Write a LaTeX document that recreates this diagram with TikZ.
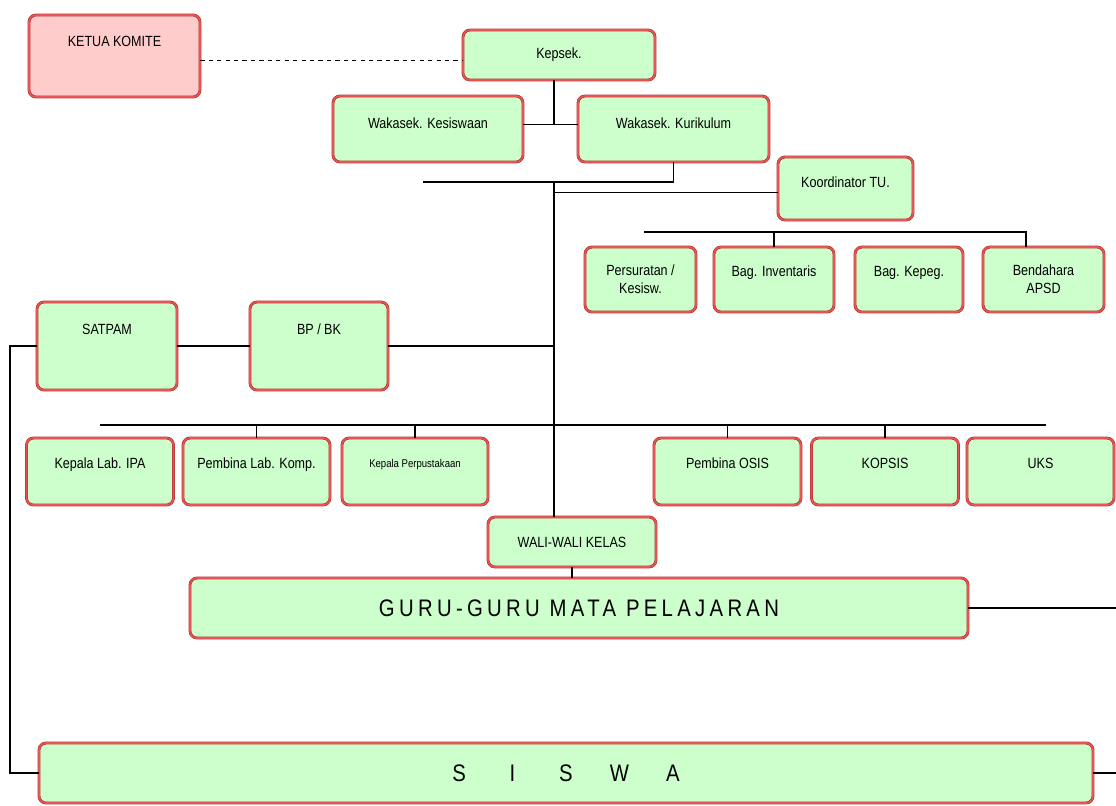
\documentclass[tikz,border=0pt]{standalone}
\usepackage{fontspec}
\usepackage{tikz}

\newfontfamily\orgfont[FakeStretch=0.85]{Liberation Sans}
\newfontfamily\bigfont[FakeStretch=0.85,LetterSpace=18]{Liberation Sans}

\definecolor{boxgreen}{RGB}{204,255,204}
\definecolor{boxpink}{RGB}{255,204,204}
\definecolor{boxred}{RGB}{232,84,84}
\definecolor{boxrim}{RGB}{170,45,45}

% lift a label up from the middle of its box
\newcommand{\txtup}[2]{\raisebox{#1}[0pt][0pt]{#2}}

\tikzset{
  orgbox/.style={draw=boxrim, double=boxred, double distance=1.2pt, line width=0.4pt,
    rounded corners=5pt, fill=boxgreen, inner sep=0pt,
    font=\orgfont\fontsize{10.5}{13}\selectfont},
  boxsize/.style 2 args={minimum width=#1*0.025cm, minimum height=#2*0.025cm},
  link/.style={line width=0.8pt},
}

\begin{document}
\begin{tikzpicture}[x=0.025cm, y=-0.025cm]  % one unit = one pixel of the chart
    \useasboundingbox (0,0) rectangle (1116,805);

    % Top: committee, head and deputies
    \node[orgbox, boxsize={171}{82}, fill=boxpink] (ketua) at (114.5,56) {\txtup{6.7pt}{KETUA KOMITE}};
    \node[orgbox, boxsize={192}{50}] (kepsek) at (559,55) {Kepsek.};
    \node[orgbox, boxsize={190}{66}] (kesis) at (428,129) {\txtup{0.3pt}{Wakasek. Kesiswaan}};
    \node[orgbox, boxsize={191}{66}] (kurik) at (673.5,129) {\txtup{0.3pt}{Wakasek. Kurikulum}};
    \node[orgbox, boxsize={135}{63}] (koord) at (845.5,188.5) {\txtup{1pt}{Koordinator TU.}};

    % Administration row
    \node[orgbox, boxsize={111}{65}, align=center] (persur) at (640.5,279.5) {Persuratan /\\Kesisw.};
    \node[orgbox, boxsize={120}{65}] (baginv) at (774,279.5) {\txtup{2.4pt}{Bag. Inventaris}};
    \node[orgbox, boxsize={108}{65}] (bagkep) at (909,279.5) {\txtup{2.4pt}{Bag. Kepeg.}};
    \node[orgbox, boxsize={121}{65}, align=center] (bend) at (1043.5,279.5) {Bendahara\\APSD};

    % Security and counselling
    \node[orgbox, boxsize={140}{88}] (satpam) at (107,346) {\txtup{8.1pt}{SATPAM}};
    \node[orgbox, boxsize={138}{88}] (bpbk) at (319,346) {\txtup{8.1pt}{BP / BK}};

    % Units row
    \foreach \nm/\cx/\txt in {labipa/100/{Kepala Lab. IPA}, labkomp/256.5/{Pembina Lab. Komp.},
        osis/727.5/{Pembina OSIS}, kopsis/885/{KOPSIS}, uks/1040.5/{UKS}}
        \node[orgbox, boxsize={147}{67}] (\nm) at (\cx,471.5) {\txtup{2.4pt}{\txt}};
    \node[orgbox, boxsize={146}{67}, font=\orgfont\fontsize{8}{10}\selectfont] (perpus) at (415,471.5)
        {\txtup{2.6pt}{Kepala Perpustakaan}};

    % Teachers and students
    \node[orgbox, boxsize={168}{50}] (wali) at (572,542) {WALI-WALI KELAS};
    \node[orgbox, boxsize={778}{60}, font=\bigfont\fontsize{17}{20}\selectfont] (guru) at (579,608)
        {GURU-GURU MATA PELAJARAN};
    \node[orgbox, boxsize={1054}{60}, font=\orgfont\fontsize{17}{20}\selectfont] (siswa) at (566,773)
        {\makebox[38pt]{S}\makebox[38pt]{I}\makebox[38pt]{S}\makebox[38pt]{W}\makebox[38pt]{A}};

    % Junctions and free line ends
    \coordinate (jA) at (554,182);
    \coordinate (lA) at (423,182);
    \coordinate (lB) at (644,232);
    \coordinate (rB) at (1026,232);
    \coordinate (lC) at (10,346);
    \coordinate (lD) at (100,425);
    \coordinate (rD) at (1046,425);
    \coordinate (rE) at (1116,613);

    % Lines of command
    \draw[link, dashed] ([yshift=-0.12cm]ketua.east) -- ([yshift=-0.12cm]ketua.east -| kepsek.west);
    \draw[link] (kepsek.south -| jA) -- ([yshift=0.12cm]kesis.east -| jA);
    \draw[link] ([yshift=0.12cm]kesis.east) -- ([yshift=0.12cm]kurik.west);
    \draw[link] (lA) -- (kurik.south |- jA) -- (kurik.south);
    \draw[link] (jA) -- (jA |- wali.north);
    \draw[link] ([yshift=-0.11cm]koord.west -| jA) -- ([yshift=-0.11cm]koord.west);

    \draw[link] (lB) -- (rB) -- (rB |- bend.north);
    \draw[link] (baginv.north |- lB) -- (baginv.north);

    \draw[link] (jA |- bpbk.east) -- (bpbk.east);
    \draw[link] (bpbk.west) -- (satpam.east);
    \draw[link] (satpam.west) -- (lC) -- (lC |- siswa.west) -- (siswa.west);

    \draw[link] (lD) -- (rD);
    \foreach \nm in {labkomp,perpus,osis,kopsis}
        \draw[link] (\nm.north |- lD) -- (\nm.north);

    \draw[link] (wali.south) -- (wali.south |- guru.north);
    \draw[link] (guru.east) -- (guru.east -| rE);
    \draw[link] (siswa.east) -- (siswa.east -| rE);

\end{tikzpicture}
\end{document}
